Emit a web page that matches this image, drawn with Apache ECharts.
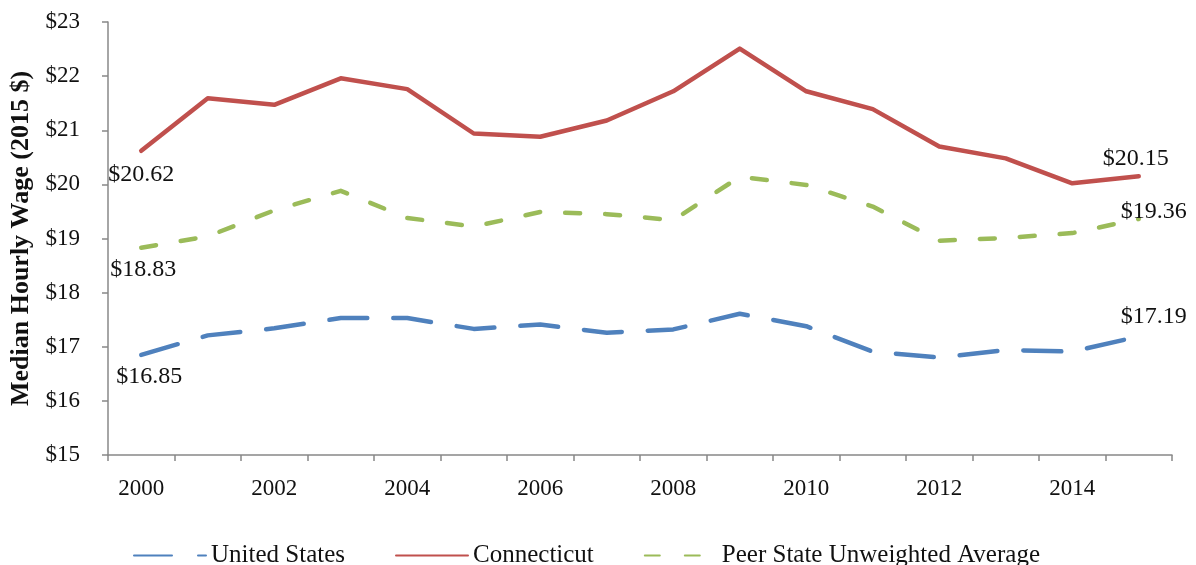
<!DOCTYPE html>
<html>
<head>
<meta charset="utf-8">
<script src="https://cdn.jsdelivr.net/npm/echarts@6/dist/echarts.min.js"></script>
<style>
  html, body { margin: 0; padding: 0; background: #fff; }
  #chart { width: 1196px; height: 565px; }
</style>
</head>
<body>
<div id="chart"></div>
<script>
var years = ["2000", "2001", "2002", "2003", "2004", "2005", "2006", "2007",
  "2008", "2009", "2010", "2011", "2012", "2013", "2014", "2015"];
var unitedStates = [16.85, 17.21, 17.34, 17.53, 17.53, 17.33, 17.41, 17.26,
  17.32, 17.61, 17.38, 16.91, 16.80, 16.94, 16.91, 17.19];
var connecticut = [20.62, 21.59, 21.47, 21.96, 21.76, 20.94, 20.88, 21.18,
  21.72, 22.51, 21.72, 21.39, 20.70, 20.48, 20.02, 20.15];
var peerAverage = [18.83, 19.04, 19.52, 19.88, 19.38, 19.22, 19.49, 19.45,
  19.34, 20.14, 19.99, 19.59, 18.96, 19.01, 19.10, 19.36];
var yTicks = { min: 15, max: 23, step: 1 };

var font = "'Liberation Serif', 'Times New Roman', serif";

// label only the first and last point of each line
function endLabels(values, firstOffset, lastOffset) {
  var last = values.length - 1;
  return values.map(function(v, i) {
    if (i === 0 || i === last) {
      return {
        value: v,
        label: {
          show: true,
          position: i === 0 ? "bottom" : "top",
          offset: i === 0 ? firstOffset : lastOffset
        }
      };
    }
    return v;
  });
}

function money(p) {
  return "$" + p.value.toFixed(2);
}

var chart = echarts.init(document.getElementById("chart"));

var labelStyle = {
  show: false,
  fontFamily: font,
  fontSize: 24,
  color: "#111",
  formatter: money,
  distance: 2
};

function lineSeries(name, color, dash, values, firstOffset, lastOffset) {
  return {
    name: name,
    type: "line",
    symbol: "circle",
    symbolSize: 2,
    showSymbol: true,
    showAllSymbol: true,
    z: 3,
    lineStyle: { color: color, width: 4.5, type: dash, cap: "round", join: "round" },
    itemStyle: { color: "rgba(0,0,0,0)", borderWidth: 0 },
    emphasis: { disabled: true },
    label: labelStyle,
    data: endLabels(values, firstOffset, lastOffset)
  };
}

chart.setOption({
  animation: false,
  textStyle: { fontFamily: font },
  grid: {
    left: 108,
    right: 24,
    top: 22,
    bottom: 110,
    containLabel: false,
    outerBoundsMode: "none"
  },
  legend: {
    top: 538,
    left: 128,
    itemWidth: 72,
    itemHeight: 12,
    itemGap: 50,
    itemStyle: { opacity: 0 },
    textStyle: { fontFamily: font, fontSize: 25, color: "#111" },
    data: ["United States", "Connecticut", "Peer State Unweighted Average"]
  },
  xAxis: {
    type: "category",
    data: years,
    boundaryGap: true,
    axisLine: { lineStyle: { color: "#888", width: 1.5 } },
    axisTick: { show: true, interval: 0, length: 6, lineStyle: { color: "#888", width: 1.5 } },
    axisLabel: {
      interval: 1,
      margin: 22,
      fontFamily: font,
      fontSize: 23,
      color: "#111"
    }
  },
  yAxis: {
    type: "value",
    min: yTicks.min,
    max: yTicks.max,
    interval: yTicks.step,
    name: "Median Hourly Wage (2015 $)",
    nameLocation: "middle",
    nameGap: 73,
    nameTextStyle: {
      fontFamily: font,
      fontSize: 26,
      fontWeight: "bold",
      color: "#111"
    },
    axisLine: { show: true, lineStyle: { color: "#888", width: 1.5 } },
    axisTick: { show: true, length: 6, lineStyle: { color: "#888", width: 1.5 } },
    splitLine: { show: false },
    axisLabel: {
      margin: 28,
      fontFamily: font,
      fontSize: 23,
      color: "#111",
      formatter: "${value}"
    }
  },
  series: [
    lineSeries("United States", "#4F81BD", [38, 26], unitedStates, [8, 7], [15, -5]),
    lineSeries("Connecticut", "#C0504D", "solid", connecticut, [0, 9], [-3, -3]),
    lineSeries("Peer State Unweighted Average", "#9BBB59", [15, 25], peerAverage, [2, 7], [15, 8])
  ]
});
</script>
</body>
</html>
